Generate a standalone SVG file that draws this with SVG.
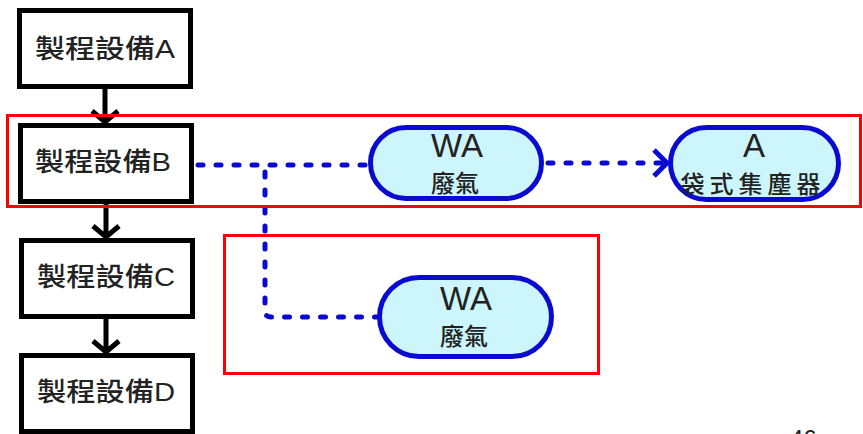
<svg xmlns="http://www.w3.org/2000/svg" width="863" height="434" viewBox="0 0 863 434">
<style>
.box{fill:#fff;stroke:#000;stroke-width:5}
.pill{fill:#ccf6fb;stroke:#0a0ad0;stroke-width:5}
.t{font-family:"Liberation Sans","Noto Sans CJK TC",sans-serif;fill:#222}
.bt{font-size:26px;font-weight:500}
.big{font-size:33px;text-anchor:middle}
.small{font-size:24px;text-anchor:middle;font-weight:500}
.solid{stroke:#000;stroke-width:5;fill:none}
.dot{stroke:#0a0ad0;stroke-width:5;fill:none;stroke-dasharray:5 13;stroke-linecap:round}
.hl{fill:none;stroke:#ff0000;stroke-width:3}
</style>
<rect width="863" height="434" fill="#fff"/>
<g id="connectors">
  <path class="solid" d="M105 89V122M92 111L105 122L118 111"/>
  <path class="solid" d="M106 203V237M93 226L106 237L119 226"/>
  <path class="solid" d="M106 318V352M93 341L106 352L119 341"/>
  <path class="dot" d="M198 165H368"/>
  <path class="dot" d="M265 172V311Q265 317 271 317H377"/>
  <path class="dot" d="M548 163H662"/>
  <path d="M654 150L667 163L654 176" fill="none" stroke="#0a0ad0" stroke-width="5"/>
</g>
<g id="nodeA">
  <rect class="box" x="19.5" y="10.5" width="171" height="76"/>
  <text class="t bt" x="35" y="58" textLength="140" lengthAdjust="spacingAndGlyphs">製程設備A</text>
</g>
<g id="nodeB">
  <rect class="box" x="20.5" y="125.5" width="171" height="76"/>
  <text class="t bt" x="35" y="171" textLength="136" lengthAdjust="spacingAndGlyphs">製程設備B</text>
</g>
<g id="nodeC">
  <rect class="box" x="21.5" y="240.5" width="171" height="76"/>
  <text class="t bt" x="37" y="286" textLength="138" lengthAdjust="spacingAndGlyphs">製程設備C</text>
</g>
<g id="nodeD">
  <rect class="box" x="21.5" y="355.5" width="171" height="76"/>
  <text class="t bt" x="37" y="401" textLength="138" lengthAdjust="spacingAndGlyphs">製程設備D</text>
</g>
<g id="wa1">
  <rect class="pill" x="370.5" y="127.5" width="171" height="71" rx="35.5"/>
  <text class="t big" x="457" y="157">WA</text>
  <text class="t small" x="455" y="192">廢氣</text>
</g>
<g id="bag">
  <rect class="pill" x="670.5" y="127.5" width="168" height="72" rx="36"/>
  <text class="t big" x="754" y="157">A</text>
  <text class="t small" x="753" y="193" style="letter-spacing:5px">袋式集塵器</text>
</g>
<g id="wa2">
  <rect class="pill" x="379.5" y="277.5" width="172" height="79" rx="39.5"/>
  <text class="t big" x="466" y="310">WA</text>
  <text class="t small" x="464" y="345">廢氣</text>
</g>
<rect class="hl" x="7.5" y="115.5" width="853" height="91"/>
<rect class="hl" x="224.5" y="235.5" width="374" height="138"/>
<text class="t" x="790" y="447" style="font-size:24px">46</text>
</svg>
